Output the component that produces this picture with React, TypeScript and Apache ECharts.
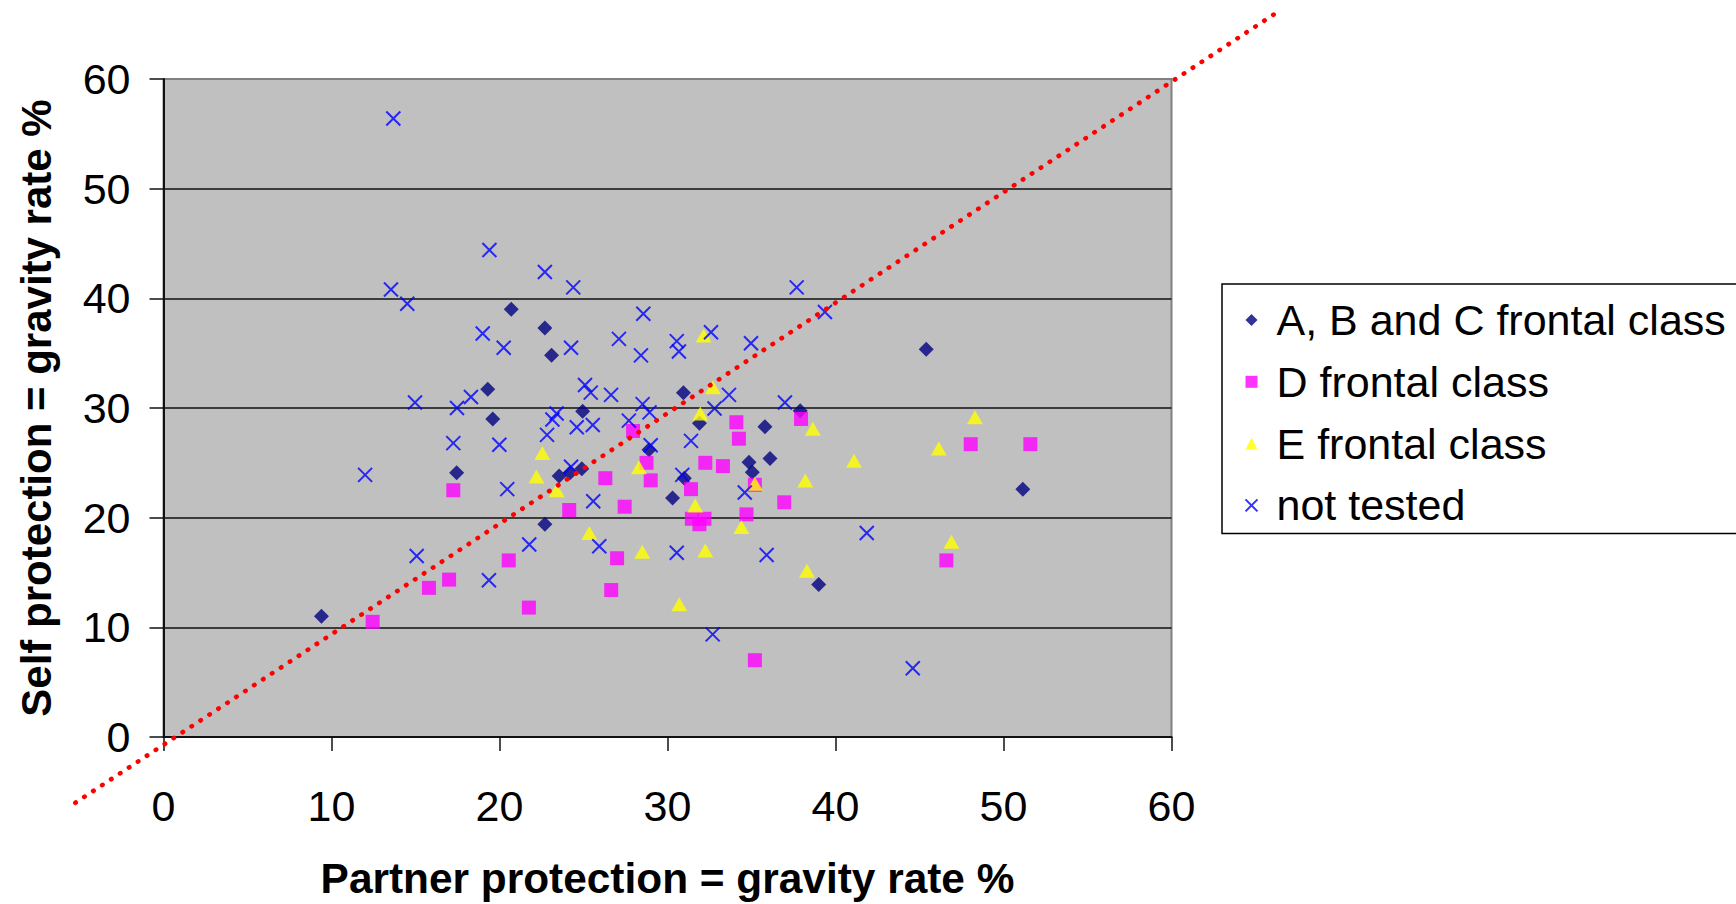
import React, { useEffect, useRef } from "react";
import * as echarts from "echarts";

const FONT = "'Liberation Sans', Arial, sans-serif";

// Axis scale (both axes): 0 .. 60 step 10
const AXIS_MIN = 0;
const AXIS_MAX = 60;
const AXIS_STEP = 10;

const X_TITLE = "Partner protection = gravity rate %";
const Y_TITLE = "Self protection = gravity rate %";

const SERIES_NAMES = [
  "A, B and C frontal class",
  "D frontal class",
  "E frontal class",
  "not tested",
];

// [partner %, self %]
const classABC: number[][] = [
  [9.4, 11.0], [17.45, 24.1], [19.3, 31.7], [19.6, 29.0], [20.7, 39.0],
  [22.7, 37.3], [23.1, 34.8], [22.7, 19.4], [23.55, 23.8], [24.2, 24.1],
  [24.9, 24.45], [24.95, 29.7], [28.9, 26.2], [30.3, 21.8], [30.95, 31.4],
  [31.0, 23.6], [31.9, 28.6], [34.85, 25.05], [35.05, 24.15], [35.8, 28.3],
  [36.1, 25.4], [37.9, 29.75], [39.0, 13.9], [45.4, 35.35], [51.15, 22.6],
];

const classD: number[][] = [
  [17.25, 22.5], [12.45, 10.5], [15.8, 13.6], [17.0, 14.35], [20.55, 16.1],
  [21.75, 11.8], [24.15, 20.7], [26.3, 23.6], [27.45, 21.0], [27.0, 16.3],
  [26.65, 13.4], [27.95, 27.9], [28.75, 25.0], [29.0, 23.4], [31.4, 22.6],
  [31.45, 19.9], [32.2, 19.9], [31.9, 19.4], [32.25, 25.0], [33.3, 24.7],
  [34.1, 28.7], [34.25, 27.2], [35.2, 23.0], [34.7, 20.3], [36.95, 21.4],
  [37.95, 29.0], [35.2, 7.0], [48.05, 26.7], [51.6, 26.7], [46.6, 16.1],
];

const classE: number[][] = [
  [22.55, 25.9], [22.2, 23.75], [23.4, 22.5], [25.35, 18.6], [28.3, 24.6],
  [28.5, 16.9], [30.7, 12.1], [31.65, 21.1], [31.95, 29.5], [32.25, 17.0],
  [32.7, 31.9], [32.15, 36.6], [35.2, 23.1], [34.4, 19.15], [38.65, 28.1],
  [38.2, 23.4], [38.3, 15.15], [41.1, 25.2], [48.3, 29.15], [46.15, 26.3],
  [46.9, 17.8],
];

const notTested: number[][] = [
  [13.68, 56.4], [19.4, 44.4], [22.7, 42.4], [13.54, 40.8], [14.51, 39.5],
  [24.39, 41.0], [19.0, 36.8], [20.25, 35.5], [24.26, 35.5], [28.56, 38.6],
  [27.11, 36.3], [28.42, 34.8], [30.55, 36.1], [30.68, 35.15], [32.59, 36.9],
  [34.97, 35.9], [37.69, 41.0], [39.37, 38.75], [14.97, 30.5], [17.47, 30.0],
  [18.3, 31.0], [25.09, 32.1], [25.43, 31.4], [26.64, 31.2], [28.52, 30.35],
  [28.93, 29.6], [33.66, 31.2], [32.8, 29.95], [36.99, 30.5], [23.4, 29.5],
  [23.15, 28.95], [24.6, 28.25], [25.55, 28.45], [27.7, 28.85], [22.83, 27.55],
  [17.25, 26.8], [19.99, 26.65], [29.0, 26.6], [31.4, 27.0], [24.26, 24.65],
  [20.46, 22.6], [25.58, 21.5], [30.88, 23.9], [34.6, 22.3], [12.0, 23.9],
  [21.77, 17.55], [25.94, 17.4], [15.07, 16.5], [19.37, 14.3], [30.55, 16.8],
  [35.9, 16.6], [41.86, 18.6], [32.69, 9.36], [44.6, 6.27],
];

// Equality reference line (drawn beyond the plot area)
const refLine: number[][] = [
  [-5.25, -6.0],
  [66.2, 66.0],
];

export default function App() {
  const ref = useRef<HTMLDivElement>(null);

  useEffect(() => {
    if (!ref.current) return;
    const chart = echarts.init(ref.current, undefined, { renderer: "svg" });

    const crossPath = "path://M0,0L14,14M14,0L0,14";

    const option: any = {
      animation: false,
      backgroundColor: "#ffffff",
      textStyle: { fontFamily: FONT },
      grid: {
        left: 163.5,
        right: 564.5,
        top: 79,
        bottom: 165,
        show: true,
        backgroundColor: "#C0C0C0",
        borderColor: "#808080",
        borderWidth: 2,
      },
      xAxis: {
        type: "value",
        min: AXIS_MIN,
        max: AXIS_MAX,
        interval: AXIS_STEP,
        name: X_TITLE,
        nameLocation: "middle",
        nameGap: 120,
        nameTextStyle: {
          fontSize: 42.4,
          fontWeight: "bold",
          color: "#000",
          fontFamily: FONT,
        },
        axisLine: { show: true, onZero: false, lineStyle: { color: "#111", width: 2 } },
        axisTick: { show: true, inside: false, length: 14, lineStyle: { color: "#111", width: 1.5 } },
        axisLabel: { margin: 47, fontSize: 43, color: "#000", fontFamily: FONT },
        splitLine: { show: false },
      },
      yAxis: {
        type: "value",
        min: AXIS_MIN,
        max: AXIS_MAX,
        interval: AXIS_STEP,
        name: Y_TITLE,
        nameLocation: "middle",
        nameGap: 106,
        nameTextStyle: {
          fontSize: 42,
          fontWeight: "bold",
          color: "#000",
          fontFamily: FONT,
        },
        axisLine: { show: true, onZero: false, lineStyle: { color: "#111", width: 2 } },
        axisTick: { show: true, inside: false, length: 14, lineStyle: { color: "#111", width: 1.5 } },
        axisLabel: { margin: 33, fontSize: 43, color: "#000", fontFamily: FONT },
        splitLine: {
          show: true,
          lineStyle: {
            color: ["#111", "#111", "#111", "#111", "#111", "#111", "#808080"],
            width: 1.5,
          },
        },
      },
      legend: {
        data: SERIES_NAMES,
        orient: "vertical",
        left: 1222,
        top: 284,
        itemWidth: 12,
        itemHeight: 12,
        itemGap: 17.8,
        padding: [14, 20, 6, 21],
        borderColor: "#000",
        borderWidth: 1.5,
        backgroundColor: "#fff",
        textStyle: {
          fontSize: 43,
          color: "#000",
          lineHeight: 44,
          fontFamily: FONT,
          padding: [0, 0, 0, 14],
        },
      },
      series: [
        {
          name: SERIES_NAMES[0],
          type: "scatter",
          data: classABC,
          symbol: "diamond",
          symbolSize: 15,
          itemStyle: { color: "#000080" },
          z: 2,
        },
        {
          name: SERIES_NAMES[1],
          type: "scatter",
          data: classD,
          symbol: "rect",
          symbolSize: 14,
          itemStyle: { color: "#FF00FF" },
          z: 3,
        },
        {
          name: SERIES_NAMES[2],
          type: "scatter",
          data: classE,
          symbol: "triangle",
          symbolSize: [16, 14],
          itemStyle: { color: "#FFFF00" },
          z: 4,
        },
        {
          name: SERIES_NAMES[3],
          type: "scatter",
          data: notTested,
          symbol: crossPath,
          symbolSize: 14,
          itemStyle: { color: "none", borderColor: "#0000FF", borderWidth: 2 },
          z: 5,
        },
      ],
    };

    chart.setOption(option);

    const p0 = chart.convertToPixel({ gridIndex: 0 }, refLine[0]) as number[];
    const p1 = chart.convertToPixel({ gridIndex: 0 }, refLine[1]) as number[];
    chart.setOption({
      graphic: [
        {
          type: "line",
          silent: true,
          z: 100,
          shape: { x1: p0[0], y1: p0[1], x2: p1[0], y2: p1[1] },
          style: {
            stroke: "#FF0000",
            lineWidth: 4.6,
            lineDash: [0.5, 10.2],
            lineCap: "round",
          },
        },
      ],
    });

    return () => chart.dispose();
  }, []);

  return (
    <div
      ref={ref}
      style={{ position: "absolute", left: 0, top: 0, width: 1736, height: 904 }}
    />
  );
}
